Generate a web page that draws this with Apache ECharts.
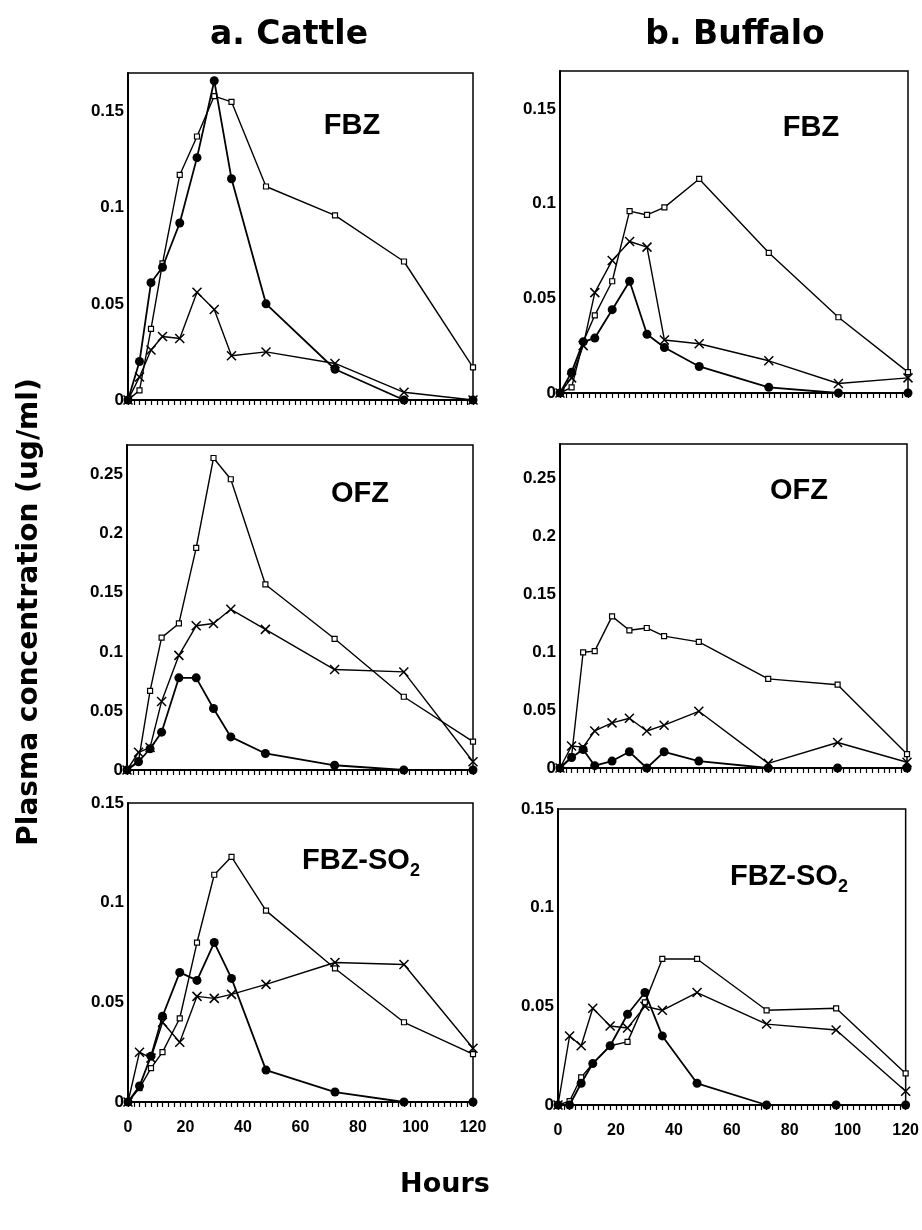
<!DOCTYPE html>
<html>
<head>
<meta charset="utf-8">
<title>Plasma concentration - cattle and buffalo</title>
<script src="https://cdn.jsdelivr.net/npm/echarts@6/dist/echarts.min.js"></script>
<style>
  html, body { margin: 0; padding: 0; background: #fff; }
  #chart { width: 922px; height: 1230px; }
</style>
</head>
<body>
<div id="chart"></div>
<script>
// sampling times (h)
var hours = [0, 4, 8, 12, 18, 24, 30, 36, 48, 72, 96, 120];
var xTicks = [0, 20, 40, 60, 80, 100, 120];
var yStep = 0.05;

// a. Cattle - FBZ
var cattleFbzSq  = [0, 0.005, 0.037, 0.071, 0.117, 0.137, 0.158, 0.155, 0.111, 0.096, 0.072, 0.017];
var cattleFbzDot = [0, 0.020, 0.061, 0.069, 0.092, 0.126, 0.166, 0.115, 0.050, 0.016, 0, 0];
var cattleFbzX   = [0, 0.012, 0.026, 0.033, 0.032, 0.056, 0.047, 0.023, 0.025, 0.019, 0.004, 0];
// b. Buffalo - FBZ
var buffFbzSq  = [0, 0.003, 0.027, 0.041, 0.059, 0.096, 0.094, 0.098, 0.113, 0.074, 0.040, 0.011];
var buffFbzDot = [0, 0.011, 0.027, 0.029, 0.044, 0.059, 0.031, 0.024, 0.014, 0.003, 0, 0];
var buffFbzX   = [0, 0.008, 0.025, 0.053, 0.070, 0.080, 0.077, 0.028, 0.026, 0.017, 0.005, 0.008];
// a. Cattle - OFZ
var cattleOfzSq  = [0, 0.008, 0.067, 0.112, 0.124, 0.188, 0.264, 0.246, 0.157, 0.111, 0.062, 0.024];
var cattleOfzDot = [0, 0.007, 0.018, 0.032, 0.078, 0.078, 0.052, 0.028, 0.014, 0.004, 0, 0];
var cattleOfzX   = [0, 0.015, 0.019, 0.058, 0.097, 0.122, 0.124, 0.136, 0.119, 0.085, 0.083, 0.007];
// b. Buffalo - OFZ
var buffOfzSq  = [0, 0.010, 0.100, 0.101, 0.131, 0.119, 0.121, 0.114, 0.109, 0.077, 0.072, 0.012];
var buffOfzDot = [0, 0.009, 0.016, 0.002, 0.006, 0.014, 0, 0.014, 0.006, 0, 0, 0];
var buffOfzX   = [0, 0.019, 0.018, 0.032, 0.039, 0.043, 0.032, 0.037, 0.049, 0.004, 0.022, 0.005];
// a. Cattle - FBZ-SO2
var cattleSo2Sq  = [0, 0.007, 0.017, 0.025, 0.042, 0.080, 0.114, 0.123, 0.096, 0.067, 0.040, 0.024];
var cattleSo2Dot = [0, 0.008, 0.023, 0.043, 0.065, 0.061, 0.080, 0.062, 0.016, 0.005, 0, 0];
var cattleSo2X   = [0, 0.025, 0.022, 0.040, 0.030, 0.053, 0.052, 0.054, 0.059, 0.070, 0.069, 0.027];
// b. Buffalo - FBZ-SO2
var buffSo2Sq  = [0, 0.002, 0.014, 0.021, 0.030, 0.032, 0.052, 0.074, 0.074, 0.048, 0.049, 0.016];
var buffSo2Dot = [0, 0, 0.011, 0.021, 0.030, 0.046, 0.057, 0.035, 0.011, 0, 0, 0];
var buffSo2X   = [0, 0.035, 0.030, 0.049, 0.040, 0.039, 0.050, 0.048, 0.057, 0.041, 0.038, 0.007];

var panels = [
  { sq: cattleFbzSq, dot: cattleFbzDot, x: cattleFbzX, max: 0.17 },
  { sq: buffFbzSq, dot: buffFbzDot, x: buffFbzX, max: 0.17 },
  { sq: cattleOfzSq, dot: cattleOfzDot, x: cattleOfzX, max: 0.275 },
  { sq: buffOfzSq, dot: buffOfzDot, x: buffOfzX, max: 0.28 },
  { sq: cattleSo2Sq, dot: cattleSo2Dot, x: cattleSo2X, max: 0.15 },
  { sq: buffSo2Sq, dot: buffSo2Dot, x: buffSo2X, max: 0.15 }
];

var boxes = [
  { left: 128, top: 73, width: 345, height: 327 },
  { left: 560, top: 71, width: 348, height: 322 },
  { left: 127, top: 445, width: 346, height: 325 },
  { left: 560, top: 444, width: 347, height: 324 },
  { left: 128, top: 803, width: 345, height: 299 },
  { left: 558, top: 809, width: 349, height: 296 }
];

var FONT = "'Liberation Sans', Arial, Helvetica, sans-serif";
var WIDE = "'DejaVu Sans', 'Liberation Sans', sans-serif";
var crossPath = 'path://M0 0L10 10M10 0L0 10';

function pairs(ys) {
  return hours.map(function (h, i) { return [h, ys[i]]; });
}

function yLabel(v) {
  var k = Math.round(v / yStep);
  if (Math.abs(v - k * yStep) > 1e-6) return '';
  return String(+(k * yStep).toFixed(2));
}

var grid = [], xAxis = [], yAxis = [], series = [];
panels.forEach(function (p, i) {
  var b = boxes[i];
  grid.push({ left: b.left, top: b.top, width: b.width, height: b.height,
    show: true, borderColor: '#000', borderWidth: 1.5, backgroundColor: 'transparent' });
  xAxis.push({
    type: 'value', gridIndex: i, min: xTicks[0], max: xTicks[xTicks.length - 1], interval: 20,
    axisLine: { show: true, lineStyle: { color: '#000', width: 2 } },
    axisTick: { show: true, length: 5, lineStyle: { color: '#000', width: 1.2 } },
    minorTick: { show: true, splitNumber: 10, length: 5, lineStyle: { color: '#000', width: 1.2 } },
    splitLine: { show: false },
    axisLabel: { show: i >= 4, color: '#000', fontFamily: FONT, fontWeight: 'bold', fontSize: 16, margin: 18 }
  });
  yAxis.push({
    type: 'value', gridIndex: i, min: 0, max: p.max, interval: yStep,
    axisLine: { show: true, onZero: false, lineStyle: { color: '#000', width: 2 } },
    axisTick: { show: false },
    splitLine: { show: false },
    axisLabel: { color: '#000', fontFamily: FONT, fontWeight: 'bold', fontSize: 17, margin: 4,
      formatter: yLabel }
  });
  series.push({
    type: 'line', xAxisIndex: i, yAxisIndex: i, data: pairs(p.sq), z: 2,
    symbol: 'rect', symbolSize: 5, showAllSymbol: true,
    lineStyle: { color: '#000', width: 1.4 },
    itemStyle: { color: '#fff', borderColor: '#000', borderWidth: 1.2 }
  });
  series.push({
    type: 'line', xAxisIndex: i, yAxisIndex: i, data: pairs(p.x), z: 3,
    symbol: crossPath, symbolSize: 9, showAllSymbol: true,
    lineStyle: { color: '#000', width: 1.4 },
    itemStyle: { color: '#000', borderColor: '#000', borderWidth: 1.5 }
  });
  series.push({
    type: 'line', xAxisIndex: i, yAxisIndex: i, data: pairs(p.dot), z: 4,
    symbol: 'circle', symbolSize: 9, showAllSymbol: true,
    lineStyle: { color: '#000', width: 1.8 },
    itemStyle: { color: '#000' }
  });
});

function label(text, x, y, size, align, family) {
  return { type: 'text', x: x, y: y, silent: true, z: 10,
    style: { text: text, x: 0, y: 0, fill: '#000', font: 'bold ' + size + 'px ' + (family || FONT),
      textAlign: align || 'center', textVerticalAlign: 'middle',
      align: align || 'center', verticalAlign: 'middle' } };
}

var graphic = [
  label('a. Cattle', 289, 35, 33, 'center', WIDE),
  label('b. Buffalo', 735, 35, 33, 'center', WIDE),
  label('FBZ', 352, 126, 29),
  label('FBZ', 811, 128, 29),
  label('OFZ', 360, 494, 29),
  label('OFZ', 799, 491, 29),
  label('FBZ-SO', 302, 861, 29, 'left'),
  label('2', 410, 871, 18, 'left'),
  label('FBZ-SO', 730, 877, 29, 'left'),
  label('2', 838, 887, 18, 'left'),
  label('Hours', 445, 1185, 27, 'center', WIDE)
];
var yTitle = label('Plasma concentration (ug/ml)', 30, 612, 28, 'center', WIDE);
yTitle.rotation = Math.PI / 2;
graphic.push(yTitle);

var chart = echarts.init(document.getElementById('chart'), null, { renderer: 'canvas' });
chart.setOption({
  backgroundColor: '#fff',
  animation: false,
  grid: grid,
  xAxis: xAxis,
  yAxis: yAxis,
  series: series,
  graphic: graphic
});
</script>
</body>
</html>
